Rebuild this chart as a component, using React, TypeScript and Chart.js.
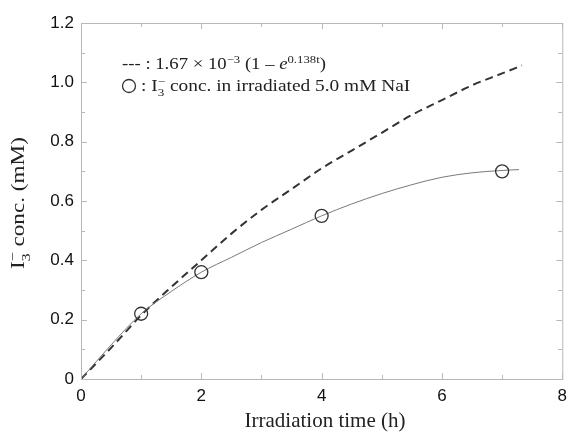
import React, { useEffect, useRef } from 'react';
import { Chart, registerables } from 'chart.js';

Chart.register(...registerables);

// Dashed model curve
const fitTimes = [0, 0.5, 1, 1.5, 2, 2.5, 3, 3.5, 4, 4.5, 5, 5.5, 6, 6.5, 7, 7.33];
const fitValues = [0, 0.105, 0.215, 0.31, 0.4, 0.49, 0.57, 0.64, 0.71, 0.77, 0.83, 0.89, 0.94, 0.99, 1.03, 1.057];

// Thin smooth curve through the measurements
const smoothTimes = [0, 0.5, 1, 1.5, 2, 2.5, 3, 3.5, 4, 4.5, 5, 5.5, 6, 6.5, 7, 7.28];
const smoothValues = [0, 0.115, 0.22, 0.295, 0.36, 0.41, 0.46, 0.505, 0.55, 0.59, 0.625, 0.655, 0.68, 0.695, 0.703, 0.706];

// Measured I3- concentration
const measuredTimes = [1, 2, 4, 7];
const measuredValues = [0.22, 0.36, 0.55, 0.7];

const originTimes = [0];
const originValues = [0];

const xTickValues = [0, 2, 4, 6, 8];
const yTickValues = [0, 0.2, 0.4, 0.6, 0.8, 1.0, 1.2];
const xMinorValues = [1, 3, 5, 7];
const yMinorValues = [0.1, 0.3, 0.5, 0.7, 0.9, 1.1];

const xTitle = 'Irradiation time (h)';
const legendFitText = '--- : 1.67 × 10';
const legendMeasText = ' conc. in irradiated 5.0 mM NaI';

type Seg = { t: string; s?: number; dy?: number; it?: boolean; keep?: boolean };

const SERIF = '"Liberation Serif", "Times New Roman", serif';

function segFont(base: number, seg: Seg) {
  const size = base * (seg.s ?? 1);
  return `${seg.it ? 'italic ' : ''}${size}px ${SERIF}`;
}

function richWidth(ctx: CanvasRenderingContext2D, segs: Seg[], base: number) {
  let w = 0;
  for (const seg of segs) {
    ctx.font = segFont(base, seg);
    if (!seg.keep) w += ctx.measureText(seg.t).width;
  }
  return w;
}

function drawRich(ctx: CanvasRenderingContext2D, segs: Seg[], base: number) {
  let x = 0;
  for (const seg of segs) {
    ctx.font = segFont(base, seg);
    ctx.fillText(seg.t, x, (seg.dy ?? 0) * base);
    if (!seg.keep) x += ctx.measureText(seg.t).width;
  }
}

const decorPlugin = {
  id: 'decor',
  afterDraw(chart: any) {
    const ctx: CanvasRenderingContext2D = chart.ctx;
    const { left, right, top, bottom } = chart.chartArea;
    const xs = chart.scales.x;
    const ys = chart.scales.y;
    ctx.save();
    // frame
    ctx.strokeStyle = '#b8b8b8';
    ctx.lineWidth = 1;
    ctx.strokeRect(left + 0.5, top + 0.5, right - left, bottom - top);
    // ticks
    const tick = (v: number, len: number, horiz: boolean) => {
      if (horiz) {
        const px = Math.round(xs.getPixelForValue(v)) + 0.5;
        ctx.beginPath();
        ctx.moveTo(px, bottom);
        ctx.lineTo(px, bottom - len);
        ctx.moveTo(px, top);
        ctx.lineTo(px, top + len);
        ctx.stroke();
      } else {
        const py = Math.round(ys.getPixelForValue(v)) + 0.5;
        ctx.beginPath();
        ctx.moveTo(left, py);
        ctx.lineTo(left + len, py);
        ctx.moveTo(right, py);
        ctx.lineTo(right - len, py);
        ctx.stroke();
      }
    };
    xTickValues.forEach((v) => tick(v, 6, true));
    xMinorValues.forEach((v) => tick(v, 4, true));
    yTickValues.forEach((v) => tick(v, 6, false));
    yMinorValues.forEach((v) => tick(v, 4, false));

    ctx.fillStyle = '#222';
    ctx.textBaseline = 'alphabetic';
    ctx.textAlign = 'left';

    // legend line 1
    const l1: Seg[] = [
      { t: legendFitText },
      { t: '−3', s: 0.68, dy: -0.38 },
      { t: ' (1 – ' },
      { t: 'e', it: true },
      { t: '0.138t', s: 0.68, dy: -0.38 },
      { t: ')' },
    ];
    ctx.save();
    ctx.translate(122, 69);
    ctx.scale(1.17, 1);
    drawRich(ctx, l1, 16);
    ctx.restore();

    // legend line 2
    ctx.beginPath();
    ctx.strokeStyle = '#333';
    ctx.lineWidth = 1.3;
    ctx.arc(129, 86, 6.5, 0, Math.PI * 2);
    ctx.stroke();
    const l2: Seg[] = [
      { t: ': I' },
      { t: '3', s: 0.68, dy: 0.3, keep: true },
      { t: '−', s: 0.68, dy: -0.35 },
      { t: legendMeasText },
    ];
    ctx.save();
    ctx.translate(141, 91);
    ctx.scale(1.21, 1);
    drawRich(ctx, l2, 16);
    ctx.restore();

    // y title
    const yt: Seg[] = [
      { t: 'I' },
      { t: '3', s: 0.68, dy: 0.3, keep: true },
      { t: '−', s: 0.68, dy: -0.35 },
      { t: ' conc. (mM)' },
    ];
    const yBase = 19;
    const ysx = 1.22;
    const yw = richWidth(ctx, yt, yBase) * ysx;
    ctx.save();
    ctx.translate(24, 203 + yw / 2);
    ctx.rotate(-Math.PI / 2);
    ctx.scale(ysx, 1);
    drawRich(ctx, yt, yBase);
    ctx.restore();

    // x title
    ctx.font = `21px ${SERIF}`;
    ctx.textAlign = 'center';
    ctx.fillText(xTitle, 325, 427);
    ctx.restore();
  },
};

export default function App() {
  const ref = useRef<HTMLCanvasElement | null>(null);
  useEffect(() => {
    document.body.style.margin = '0';
    const canvas = ref.current;
    if (!canvas) return;
    const pts = (xs: number[], ys: number[]) => xs.map((x, i) => ({ x, y: ys[i] }));
    const chart = new Chart(canvas, {
      type: 'scatter',
      data: {
        datasets: [
          {
            label: 'measured',
            data: pts(measuredTimes, measuredValues),
            showLine: false,
            pointRadius: 6.5,
            pointBorderWidth: 1.3,
            pointBorderColor: '#333',
            pointBackgroundColor: 'rgba(255,255,255,0)',
            order: 0,
          },
          {
            label: 'origin',
            data: pts(originTimes, originValues),
            showLine: false,
            pointStyle: 'crossRot',
            pointRadius: 3,
            pointBorderWidth: 1,
            pointBorderColor: '#444',
            order: 1,
          },
          {
            label: 'smooth',
            data: pts(smoothTimes, smoothValues),
            showLine: true,
            borderColor: '#7a7a7a',
            borderWidth: 1,
            pointRadius: 0,
            cubicInterpolationMode: 'monotone',
            order: 2,
          },
          {
            label: 'fit',
            data: pts(fitTimes, fitValues),
            showLine: true,
            borderColor: '#333',
            borderWidth: 2,
            borderDash: [8, 5],
            pointRadius: 0,
            cubicInterpolationMode: 'monotone',
            order: 3,
          },
        ],
      } as any,
      options: {
        animation: false,
        responsive: true,
        maintainAspectRatio: false,
        layout: { padding: { top: 23, right: 8, left: 0, bottom: 0 } },
        plugins: { legend: { display: false }, tooltip: { enabled: false } },
        scales: {
          x: {
            type: 'linear',
            min: 0,
            max: 8,
            afterFit: (s: any) => {
              s.height = 54;
            },
            afterBuildTicks: (s: any) => {
              s.ticks = xTickValues.map((v) => ({ value: v }));
            },
            ticks: {
              padding: 7,
              color: '#111',
              font: { family: '"Liberation Sans", Arial, sans-serif', size: 17 },
              callback: (v: any) => String(v),
            },
            grid: { display: false, drawTicks: false },
            border: { display: false },
          },
          y: {
            type: 'linear',
            min: 0,
            max: 1.2,
            afterFit: (s: any) => {
              s.width = 81;
            },
            afterBuildTicks: (s: any) => {
              s.ticks = yTickValues.map((v) => ({ value: v }));
            },
            ticks: {
              padding: 7,
              color: '#111',
              font: { family: '"Liberation Sans", Arial, sans-serif', size: 17 },
              callback: (v: any) => (Number(v) === 0 ? '0' : Number(v).toFixed(1)),
            },
            grid: { display: false, drawTicks: false },
            border: { display: false },
          },
        },
      } as any,
      plugins: [decorPlugin],
    });
    return () => chart.destroy();
  }, []);
  return (
    <div style={{ position: 'absolute', left: 0, top: 0, width: 574, height: 433, background: '#fff' }}>
      <canvas ref={ref} />
    </div>
  );
}
